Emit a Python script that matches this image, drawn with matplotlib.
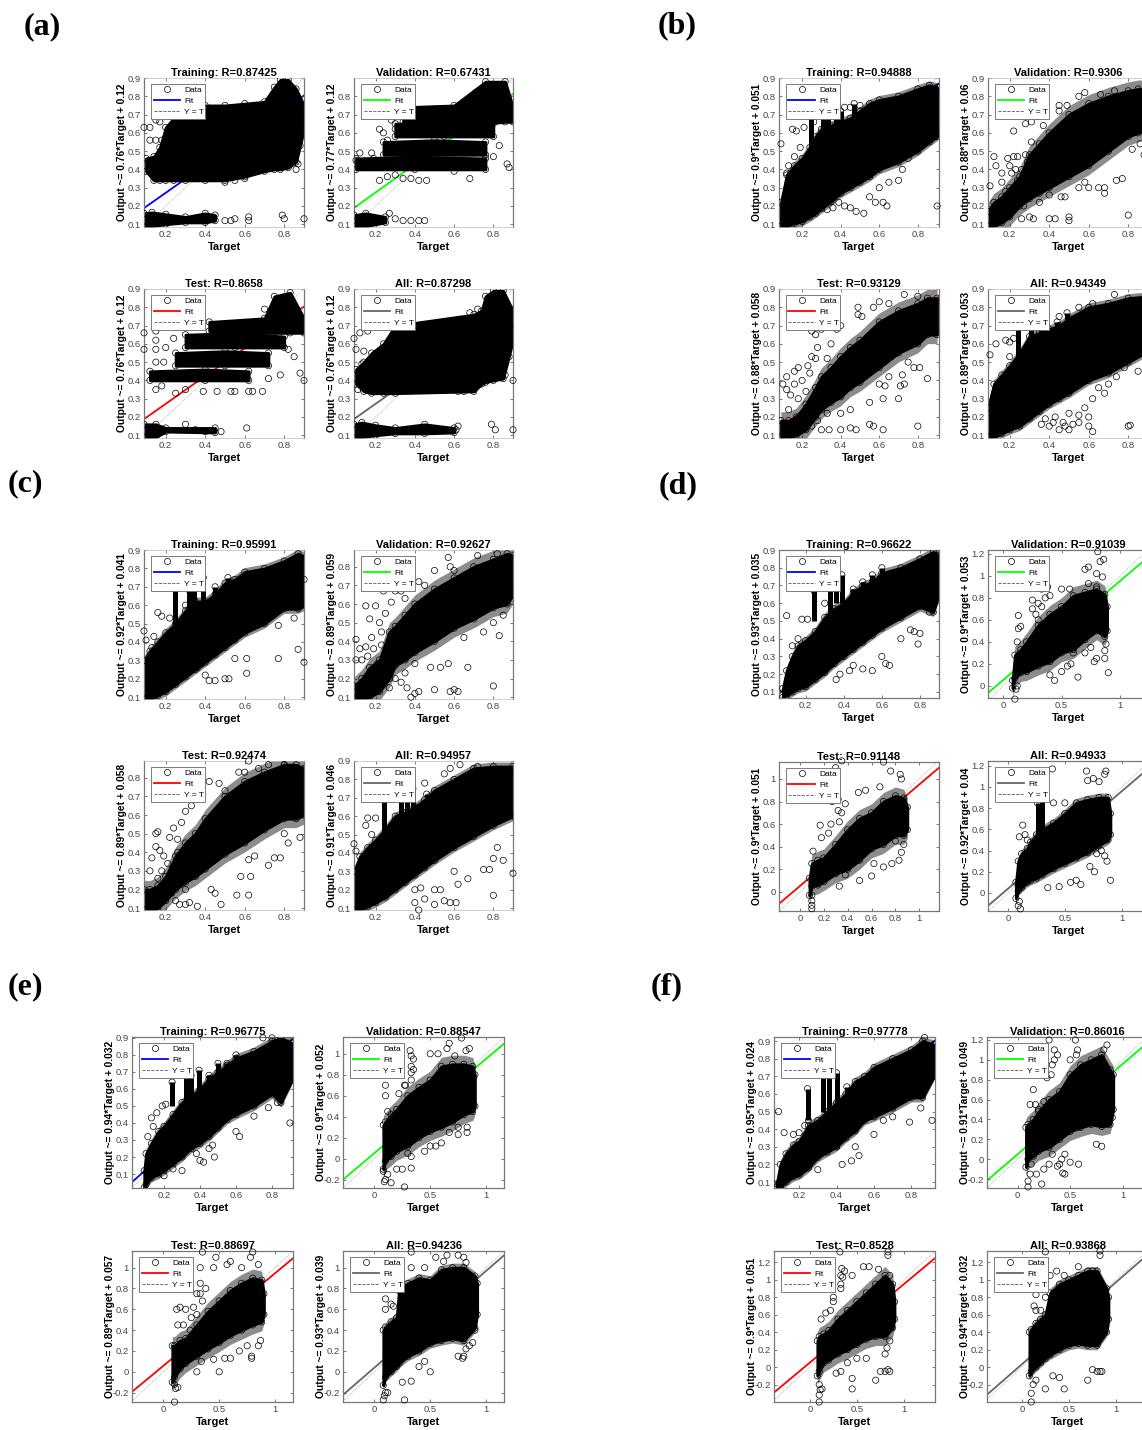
import numpy as np
import matplotlib
matplotlib.use('Agg')
import matplotlib.pyplot as plt
from matplotlib.lines import Line2D

plt.rcParams['font.family'] = ['Liberation Sans', 'DejaVu Sans']

W, H = 1142, 1430

# --- (a) the outputs sit in bands, so these panels have several clouds
a_tr_x = [.10, .14, .17, .20, .24, .30, .40, .50, .60, .70, .75, .78, .82, .86, .90, .91]
a_tr_hi = [.46, .47, .52, .63, .68, .75, .75, .75, .76, .77, .85, .89, .89, .84, .75, .70]
a_tr_lo = [.39, .34, .34, .34, .34, .34, .34, .34, .36, .39, .40, .40, .41, .44, .62, .65]
a_tr_x2 = [.09, .13, .20, .30, .40, .45]
a_tr_hi2 = [.16, .165, .155, .14, .16, .15]
a_tr_lo2 = [.085, .09, .10, .11, .11, .12]
a_tr_out = [(.09, .63), (.12, .63), (.15, .67), (.12, .56), (.50, .33), (.55, .34), (.60, .35), (.62, .14),
            (.62, .12), (.79, .15), (.80, .13), (.90, .13), (.88, .53), (.87, .43), (.86, .40), (.53, .12),
            (.50, .12), (.55, .13), (.15, .56), (.18, .56), (.17, .66)]

a_va_x = [.10, .40, .76]
a_va_hi = [.46, .47, .46]
a_va_lo = [.40, .40, .40]
a_va_x2 = [.24, .50, .76]
a_va_hi2 = [.55, .56, .55]
a_va_lo2 = [.48, .48, .48]
a_va_x3 = [.30, .55, .80]
a_va_hi3 = [.65, .66, .65]
a_va_lo3 = [.58, .58, .58]
a_va_x4 = [.34, .60, .76, .86, .90]
a_va_hi4 = [.74, .75, .88, .88, .74]
a_va_lo4 = [.66, .65, .65, .66, .66]
a_va_x5 = [.09, .15, .25]
a_va_hi5 = [.15, .16, .14]
a_va_lo5 = [.09, .09, .11]
a_va_out = [(.12, .49), (.18, .49), (.19, .46), (.10, .45), (.22, .34), (.26, .36), (.30, .37), (.34, .35),
            (.38, .35), (.42, .34), (.46, .34), (.60, .39), (.68, .35), (.74, .42), (.83, .53), (.80, .47),
            (.87, .43), (.88, .41), (.22, .62), (.24, .60), (.26, .56), (.28, .67), (.30, .62), (.27, .16),
            (.30, .13), (.34, .12), (.38, .12), (.42, .12), (.45, .12), (.71, .82), (.66, .77), (.27, .53)]

a_te_x = [.12, .40, .62]
a_te_hi = [.45, .46, .45]
a_te_lo = [.40, .40, .40]
a_te_x2 = [.25, .50, .72]
a_te_hi2 = [.55, .56, .55]
a_te_lo2 = [.48, .48, .48]
a_te_x3 = [.30, .55, .80]
a_te_hi3 = [.65, .66, .64]
a_te_lo3 = [.58, .58, .58]
a_te_x4 = [.42, .70, .75, .83, .90]
a_te_hi4 = [.72, .74, .86, .88, .74]
a_te_lo4 = [.67, .66, .66, .66, .66]
a_te_x5 = [.09, .15, .20, .45]
a_te_hi5 = [.16, .16, .14, .14]
a_te_lo5 = [.09, .09, .12, .115]
a_te_out = [(.09, .66), (.15, .67), (.15, .62), (.09, .57), (.15, .57), (.20, .58), (.15, .50), (.19, .50),
            (.15, .35), (.18, .37), (.25, .33), (.30, .35), (.39, .34), (.46, .34), (.53, .34), (.55, .34),
            (.62, .34), (.64, .34), (.69, .34), (.78, .43), (.88, .44), (.90, .40), (.85, .53), (.82, .57),
            (.70, .79), (.30, .16), (.35, .13), (.40, .12), (.48, .12), (.61, .14), (.72, .41), (.24, .63)]

a_al_x = [.10, .14, .18, .24, .30, .70, .74, .76, .80, .85, .90, .91]
a_al_hi = [.46, .50, .55, .60, .70, .76, .78, .86, .89, .89, .78, .70]
a_al_lo = [.38, .34, .33, .33, .33, .34, .38, .39, .40, .41, .62, .64]
a_al_x2 = [.09, .13, .20, .30, .45, .60]
a_al_hi2 = [.16, .17, .155, .14, .16, .14]
a_al_lo2 = [.085, .09, .10, .11, .11, .115]
a_al_out = [(.09, .63), (.12, .66), (.16, .67), (.10, .57), (.14, .56), (.62, .34), (.65, .34), (.70, .35),
            (.79, .16), (.81, .13), (.90, .13), (.62, .15), (.61, .13), (.88, .53), (.90, .40), (.86, .43),
            (.72, .79), (.68, .77), (.13, .49), (.11, .35)]

# --- (b)
b_tr_x = [.09, .12, .16, .20, .24, .27, .30, .35, .40, .45, .50, .55, .60, .70, .80, .86, .90, .91]
b_tr_hi = [.22, .37, .42, .46, .52, .58, .62, .64, .66, .68, .72, .76, .78, .80, .84, .86, .85, .80]
b_tr_lo = [.09, .09, .105, .115, .14, .16, .185, .225, .27, .30, .33, .36, .40, .44, .50, .55, .58, .60]
b_tr_tw = [(.245, .5, .69), (.31, .55, .69), (.335, .55, .69), (.375, .55, .69), (.40, .55, .72), (.47, .6, .76)]
b_tr_out = [(.09, .54), (.15, .62), (.17, .61), (.21, .63), (.16, .47), (.19, .52), (.13, .42), (.12, .38),
            (.26, .66), (.42, .74), (.45, .74), (.50, .75), (.39, .22), (.42, .20), (.45, .19), (.48, .17),
            (.52, .16), (.55, .25), (.58, .22), (.62, .22), (.64, .20), (.60, .30), (.65, .33), (.70, .34),
            (.72, .40), (.75, .46), (.68, .45), (.90, .20), (.86, .57), (.36, .19), (.33, .18)]

b_va_x = [.09, .12, .16, .20, .25, .30, .35, .40, .50, .60, .70, .80, .85, .90]
b_va_hi = [.17, .22, .25, .30, .36, .48, .54, .60, .70, .76, .80, .83, .84, .84]
b_va_lo = [.09, .09, .11, .14, .20, .24, .27, .30, .36, .42, .50, .58, .60, .62]
b_va_out = [(.12, .47), (.13, .42), (.10, .31), (.16, .38), (.19, .46), (.22, .47), (.24, .47), (.26, .40),
            (.28, .48), (.21, .38), (.25, .30), (.22, .61), (.28, .65), (.31, .66), (.34, .69), (.37, .64),
            (.31, .55), (.45, .72), (.45, .75), (.49, .75), (.55, .80), (.58, .82), (.66, .81), (.73, .83),
            (.30, .14), (.32, .13), (.26, .13), (.40, .13), (.43, .13), (.50, .12), (.50, .14), (.80, .15),
            (.65, .30), (.68, .27), (.68, .30), (.60, .30), (.55, .30), (.58, .33), (.74, .34), (.77, .35),
            (.88, .48), (.35, .22), (.40, .26), (.46, .25), (.48, .25), (.27, .20), (.16, .33), (.18, .28),
            (.23, .26), (.24, .34), (.29, .44), (.20, .42), (.23, .40), (.28, .36), (.82, .51), (.86, .54)]

b_te_x = [.09, .13, .17, .22, .27, .30, .35, .40, .45, .50, .60, .70, .80, .85, .90]
b_te_hi = [.18, .18, .20, .27, .36, .42, .47, .53, .58, .62, .72, .78, .82, .85, .85]
b_te_lo = [.09, .09, .10, .13, .20, .24, .28, .31, .36, .39, .47, .55, .60, .65, .65]
b_te_out = [(.10, .38), (.12, .42), (.16, .45), (.18, .47), (.23, .48), (.25, .53), (.27, .52), (.13, .24),
            (.27, .65), (.25, .67), (.30, .68), (.35, .60), (.38, .68), (.40, .70), (.49, .76), (.49, .80),
            (.51, .75), (.57, .80), (.60, .83), (.65, .82), (.73, .87), (.80, .86), (.85, .82), (.30, .13),
            (.34, .13), (.40, .13), (.45, .14), (.48, .13), (.55, .16), (.57, .15), (.62, .13), (.80, .15),
            (.55, .28), (.62, .30), (.70, .30), (.71, .37), (.73, .38), (.60, .38), (.63, .37), (.65, .42),
            (.75, .50), (.78, .47), (.81, .47), (.85, .41), (.72, .43), (.45, .24), (.40, .22), (.14, .32),
            (.18, .30), (.22, .34), (.20, .40), (.24, .44), (.28, .58), (.33, .52), (.12, .35), (.16, .38),
            (.25, .15), (.22, .16), (.28, .18), (.33, .22)]

b_al_x = [.09, .12, .16, .20, .25, .30, .35, .40, .45, .50, .60, .70, .80, .90]
b_al_hi = [.25, .38, .43, .48, .55, .64, .66, .68, .70, .74, .80, .82, .85, .86]
b_al_lo = [.09, .09, .11, .13, .15, .19, .23, .27, .30, .33, .40, .44, .50, .56]
b_al_tw = [(.24, .5, .70), (.31, .55, .70), (.36, .55, .76), (.44, .6, .72), (.49, .6, .77)]
b_al_out = [(.10, .54), (.13, .60), (.20, .61), (.18, .62), (.22, .63), (.20, .53), (.45, .75), (.55, .80),
            (.62, .82), (.73, .87), (.62, .12), (.60, .20), (.55, .17), (.52, .16), (.47, .17), (.42, .17),
            (.40, .15), (.45, .13), (.50, .13), (.80, .15), (.81, .155), (.36, .16), (.58, .25), (.62, .30),
            (.68, .33), (.70, .38), (.78, .47), (.85, .45), (.90, .41), (.50, .22), (.55, .21), (.43, .20),
            (.38, .19), (.48, .15), (.60, .15), (.65, .36), (.74, .42), (.82, .52)]

# --- (c)
c_tr_x = [.09, .12, .16, .20, .25, .30, .35, .40, .45, .50, .55, .60, .70, .80, .87, .91]
c_tr_hi = [.30, .35, .40, .45, .50, .57, .62, .62, .66, .72, .74, .78, .80, .84, .88, .86]
c_tr_lo = [.09, .09, .11, .13, .17, .21, .25, .29, .33, .37, .41, .45, .50, .58, .58, .60]
c_tr_tw = [(.245, .5, .69), (.32, .55, .68), (.345, .55, .69), (.39, .6, .75), (.45, .6, .70), (.515, .6, .75)]
c_tr_out = [(.09, .46), (.10, .41), (.16, .56), (.18, .54), (.14, .43), (.13, .37), (.22, .53), (.30, .60),
            (.36, .26), (.38, .28), (.40, .22), (.42, .19), (.45, .19), (.50, .20), (.52, .20), (.55, .31),
            (.61, .31), (.61, .23), (.77, .31), (.87, .36), (.90, .29), (.77, .49), (.85, .53), (.90, .74)]

c_va_x = [.09, .13, .17, .22, .27, .30, .35, .40, .50, .60, .70, .80, .87, .90]
c_va_hi = [.16, .20, .26, .30, .45, .48, .54, .60, .68, .74, .80, .84, .87, .86]
c_va_lo = [.09, .09, .10, .13, .20, .27, .30, .34, .40, .47, .52, .58, .60, .65]
c_va_out = [(.10, .41), (.12, .36), (.15, .37), (.15, .59), (.20, .59), (.17, .52), (.22, .50), (.23, .45),
            (.18, .42), (.13, .30), (.10, .30), (.24, .67), (.25, .55), (.28, .61), (.30, .67), (.33, .67),
            (.35, .63), (.42, .72), (.45, .70), (.50, .78), (.57, .85), (.58, .80), (.60, .78), (.72, .86),
            (.82, .87), (.30, .20), (.33, .18), (.36, .15), (.40, .12), (.42, .13), (.38, .10), (.50, .14),
            (.58, .13), (.60, .14), (.62, .13), (.67, .26), (.80, .16), (.83, .43), (.57, .28), (.53, .26),
            (.48, .26), (.65, .42), (.75, .45), (.80, .50), (.85, .54), (.16, .32), (.19, .36), (.21, .28),
            (.25, .22), (.27, .15), (.23, .38), (.26, .33), (.35, .23), (.40, .28)]

c_te_x = [.09, .12, .16, .20, .25, .30, .35, .40, .50, .60, .70, .80, .86, .90]
c_te_hi = [.20, .20, .22, .27, .38, .45, .50, .58, .70, .78, .83, .87, .87, .85]
c_te_lo = [.09, .09, .10, .14, .20, .24, .27, .31, .39, .45, .52, .58, .58, .60]
c_te_out = [(.15, .50), (.16, .51), (.15, .43), (.17, .41), (.13, .37), (.12, .30), (.22, .48), (.24, .53),
            (.26, .47), (.28, .56), (.30, .62), (.33, .65), (.33, .72), (.37, .70), (.42, .78), (.47, .77),
            (.50, .73), (.57, .83), (.60, .83), (.62, .89), (.67, .85), (.72, .87), (.80, .87), (.25, .14),
            (.27, .12), (.30, .12), (.32, .13), (.36, .11), (.48, .12), (.56, .17), (.62, .17), (.45, .18),
            (.43, .20), (.58, .27), (.63, .27), (.65, .38), (.62, .36), (.72, .33), (.75, .37), (.78, .37),
            (.82, .45), (.88, .48), (.80, .50), (.18, .30), (.21, .34), (.16, .26), (.23, .18), (.30, .20),
            (.26, .40), (.19, .38)]

c_al_x = [.09, .12, .16, .20, .25, .30, .35, .40, .45, .50, .60, .70, .80, .90, .91]
c_al_hi = [.30, .38, .43, .47, .53, .60, .62, .65, .69, .74, .80, .86, .87, .87, .84]
c_al_lo = [.09, .09, .11, .13, .16, .20, .24, .28, .32, .36, .43, .49, .55, .60, .60]
c_al_tw = [(.245, .5, .69), (.33, .6, .69), (.36, .6, .70), (.39, .6, .75), (.46, .6, .72)]
c_al_out = [(.09, .45), (.10, .41), (.16, .59), (.20, .59), (.15, .55), (.18, .50), (.45, .78), (.55, .83),
            (.58, .86), (.63, .88), (.72, .87), (.40, .20), (.43, .21), (.40, .13), (.45, .15), (.50, .12),
            (.55, .14), (.58, .13), (.61, .13), (.42, .09), (.62, .23), (.67, .26), (.60, .30), (.75, .31),
            (.80, .17), (.82, .43), (.80, .37), (.85, .36), (.90, .29), (.78, .31), (.50, .20), (.53, .20)]

# --- (d)
d_tr_x = [.08, .10, .13, .16, .20, .25, .30, .35, .40, .45, .50, .55, .60, .70, .80, .87, .90]
d_tr_hi = [.12, .22, .30, .36, .39, .44, .52, .57, .60, .66, .70, .72, .77, .80, .85, .89, .87]
d_tr_lo = [.07, .08, .10, .12, .13, .17, .21, .26, .30, .34, .38, .42, .46, .52, .58, .55, .65]
d_tr_tw = [(.245, .5, .67), (.33, .55, .68), (.36, .6, .68), (.39, .6, .76), (.45, .6, .68), (.50, .6, .72),
           (.55, .65, .76), (.60, .7, .80)]
d_tr_out = [(.10, .53), (.18, .51), (.21, .51), (.13, .36), (.16, .40), (.30, .60), (.36, .17), (.38, .20),
            (.43, .22), (.45, .25), (.50, .23), (.55, .22), (.62, .26), (.64, .25), (.60, .30), (.70, .40),
            (.77, .44), (.79, .37), (.80, .43), (.75, .45), (.85, .55)]

d_va_x = [.08, .10, .15, .20, .30, .40, .50, .60, .70, .80, .87, .89]
d_va_hi = [.05, .28, .33, .40, .55, .65, .72, .82, .85, .88, .83, .72]
d_va_lo = [-.02, .07, .12, .13, .18, .22, .30, .33, .42, .50, .45, .50]
d_va_out = [(.10, -.12), (.11, -.03), (.12, .0), (.13, .64), (.13, .52), (.15, .54), (.12, .40), (.25, .78),
            (.25, .70), (.30, .60), (.33, .88), (.38, .90), (.40, .82), (.50, .88), (.57, .88), (.70, 1.06),
            (.73, 1.08), (.80, 1.02), (.85, .99), (.86, 1.15), (.83, 1.13), (.80, .90), (.73, .93), (.40, .10),
            (.44, .05), (.50, .13), (.55, .18), (.58, .20), (.64, .08), (.90, .12), (.87, .25), (.87, .32),
            (.88, .38), (.80, .25), (.78, .22), (.60, .30), (.70, .30), (.75, .35), (.81, 1.22), (.30, .75),
            (.36, .80), (.33, .72), (.28, .65)]

d_te_x = [.08, .10, .15, .20, .30, .40, .50, .60, .70, .80, .87, .90]
d_te_hi = [.12, .25, .28, .30, .42, .55, .65, .70, .80, .85, .83, .75]
d_te_lo = [-.03, .05, .06, .09, .16, .20, .28, .38, .42, .50, .50, .55]
d_te_out = [(.10, -.12), (.10, -.08), (.10, -.03), (.10, -.15), (.11, .36), (.17, .59), (.18, .48), (.24, .52),
            (.26, .60), (.30, 1.10), (.32, .72), (.35, 1.16), (.38, .78), (.32, .82), (.27, .80), (.35, .70),
            (.33, .62), (.49, .88), (.55, .90), (.67, .93), (.70, 1.15), (.76, 1.07), (.84, 1.04), (.85, 1.00),
            (.33, .05), (.38, .15), (.50, .10), (.60, .14), (.62, .25), (.70, .22), (.77, .25), (.83, .28),
            (.85, .35), (.87, .42), (.80, .45), (.30, .90), (.30, .95), (.30, 1.0)]

d_al_x = [.07, .09, .12, .17, .20, .25, .30, .40, .50, .60, .70, .80, .88, .90]
d_al_hi = [.10, .30, .37, .42, .48, .55, .60, .66, .75, .85, .88, .90, .90, .75]
d_al_lo = [-.05, .02, .05, .10, .12, .14, .17, .23, .28, .33, .38, .45, .50, .55]
d_al_tw = [(.26, .5, .85), (.30, .5, 1.0)]
d_al_out = [(.09, -.12), (.10, -.08), (.11, -.15), (.13, .64), (.10, .53), (.15, .55), (.17, .50), (.39, 1.17),
            (.40, .85), (.50, .85), (.70, 1.06), (.75, 1.08), (.80, 1.05), (.85, 1.12), (.86, 1.15), (.69, 1.15),
            (.35, .05), (.45, .06), (.55, .10), (.60, .12), (.64, .08), (.72, .25), (.76, .20), (.90, .12),
            (.85, .35), (.87, .30), (.78, .37), (.82, .40)]

# --- (e)
e_tr_x = [.09, .10, .13, .17, .20, .25, .30, .35, .40, .45, .50, .55, .60, .70, .80, .85, .91]
e_tr_hi = [.12, .22, .28, .35, .38, .45, .52, .56, .60, .66, .70, .74, .78, .82, .88, .90, .87]
e_tr_lo = [.02, .04, .08, .10, .12, .16, .20, .25, .28, .32, .37, .42, .45, .50, .57, .52, .65]
e_tr_tw = [(.245, .5, .64), (.32, .5, .68), (.35, .55, .68), (.395, .55, .71), (.45, .6, .68), (.50, .6, .75),
           (.55, .6, .75), (.60, .7, .80)]
e_tr_out = [(.13, .43), (.11, .32), (.16, .46), (.19, .50), (.21, .51), (.14, .38), (.25, .13), (.30, .12),
            (.20, .09), (.38, .22), (.40, .18), (.45, .25), (.47, .27), (.48, .20), (.42, .17), (.60, .35),
            (.62, .32), (.70, .44), (.78, .49), (.90, .40), (.83, .52), (.80, .90), (.75, .90)]

e_va_x = [.08, .10, .15, .20, .30, .40, .50, .60, .70, .80, .88, .90]
e_va_hi = [.32, .35, .42, .47, .60, .68, .75, .88, .90, .90, .88, .80]
e_va_lo = [-.10, -.02, .02, .07, .12, .20, .26, .30, .35, .42, .45, .50]
e_va_out = [(.10, .60), (.10, .70), (.12, .45), (.09, -.22), (.10, -.20), (.15, -.23), (.08, -.12), (.27, -.27),
            (.12, -.15), (.20, -.10), (.25, -.10), (.33, -.09), (.22, .62), (.27, .70), (.33, .75), (.33, .82),
            (.35, .85), (.33, .88), (.35, .95), (.33, .98), (.32, 1.03), (.28, .70), (.50, 1.00), (.57, 1.00),
            (.65, 1.05), (.67, 1.10), (.72, .98), (.78, 1.15), (.82, 1.03), (.85, 1.05), (.30, .05), (.33, .02),
            (.45, .07), (.50, .12), (.55, .12), (.60, .15), (.67, .25), (.75, .23), (.83, .25), (.83, .30),
            (.75, .30)]

e_te_x = [.08, .10, .15, .20, .30, .40, .50, .60, .70, .80, .88, .90]
e_te_hi = [.25, .25, .30, .32, .45, .58, .68, .78, .85, .90, .88, .75]
e_te_lo = [-.10, -.05, .03, .08, .15, .22, .28, .35, .40, .45, .48, .55]
e_te_out = [(.10, -.12), (.11, -.16), (.10, -.29), (.13, -.15), (.12, .60), (.15, .62), (.20, .60), (.13, .45),
            (.25, .52), (.30, .55), (.33, .75), (.33, .85), (.38, .80), (.35, .68), (.35, 1.15), (.33, 1.00),
            (.45, 1.00), (.47, 1.10), (.57, 1.03), (.60, 1.06), (.70, 1.00), (.78, 1.10), (.80, 1.15), (.85, 1.03),
            (.30, .00), (.34, .10), (.45, .12), (.50, .00), (.55, .13), (.60, .13), (.68, .20), (.75, .25),
            (.79, .13), (.79, .15), (.85, .25), (.87, .30), (.18, .45), (.24, .40), (.27, .62), (.30, .75)]

e_al_x = [.08, .10, .15, .20, .22, .30, .40, .50, .60, .70, .80, .90, .92]
e_al_hi = [.40, .43, .48, .52, .78, .85, .90, .88, .98, 1.00, 1.00, .92, .85]
e_al_lo = [-.13, -.05, .00, .05, .08, .15, .20, .27, .30, .32, .30, .42, .55]
e_al_out = [(.10, .70), (.10, .60), (.15, .65), (.17, .63), (.10, -.20), (.09, -.23), (.08, -.27), (.12, -.20),
            (.27, -.27), (.33, -.09), (.25, -.10), (.33, 1.15), (.33, 1.00), (.45, 1.00), (.55, 1.10), (.65, 1.12),
            (.62, 1.06), (.75, 1.12), (.82, 1.05), (.80, 1.10), (.50, .00), (.40, .05), (.45, .10), (.75, .15),
            (.79, .13), (.80, .15), (.82, .22), (.85, .25), (.88, .28), (.90, .40)]

# --- (f)
f_tr_x = [.08, .10, .13, .17, .20, .25, .30, .35, .40, .45, .50, .55, .60, .70, .80, .86, .92]
f_tr_hi = [.09, .20, .26, .31, .33, .42, .45, .50, .55, .60, .67, .70, .75, .80, .85, .90, .88]
f_tr_lo = [.07, .07, .10, .13, .14, .18, .24, .27, .30, .35, .39, .45, .47, .52, .58, .58, .70]
f_tr_tw = [(.245, .45, .63), (.33, .5, .70), (.36, .5, .70), (.40, .55, .72), (.455, .55, .64)]
f_tr_out = [(.09, .50), (.12, .38), (.17, .37), (.20, .38), (.23, .42), (.25, .45), (.22, .19), (.30, .17),
            (.40, .30), (.43, .20), (.48, .22), (.52, .25), (.50, .30), (.60, .37), (.65, .45), (.70, .47),
            (.79, .44), (.91, .45), (.85, .52), (.87, .92)]

f_va_x = [.08, .10, .15, .20, .30, .40, .50, .60, .70, .80, .88, .91]
f_va_hi = [.32, .35, .40, .48, .60, .68, .85, .95, 1.00, 1.05, .90, .85]
f_va_lo = [-.08, .00, .03, .08, .12, .20, .28, .32, .35, .33, .35, .50]
f_va_out = [(.10, -.28), (.10, -.22), (.12, -.15), (.13, -.05), (.15, .70), (.12, .55), (.17, .55), (.20, .50),
            (.25, .58), (.18, -.15), (.25, -.10), (.23, -.25), (.30, -.05), (.33, .05), (.38, -.07), (.40, -.05),
            (.43, -.14), (.45, -.15), (.42, .00), (.50, -.03), (.45, .05), (.58, -.05), (.32, .85), (.33, .95),
            (.35, 1.00), (.35, 1.10), (.38, 1.05), (.30, 1.20), (.28, .82), (.56, 1.05), (.57, 1.10), (.50, 1.00),
            (.55, 1.20), (.82, 1.10), (.85, 1.15), (.90, .42), (.85, .35), (.80, .13), (.75, .15)]

f_te_x = [.08, .10, .15, .20, .30, .40, .50, .60, .70, .80, .88, .90]
f_te_hi = [.30, .35, .38, .42, .55, .65, .75, .85, .95, 1.05, .95, .75]
f_te_lo = [-.10, -.05, .05, .08, .15, .20, .26, .32, .35, .35, .45, .55]
f_te_out = [(.10, -.20), (.11, -.26), (.10, -.32), (.10, -.40), (.13, -.25), (.12, .55), (.17, .62), (.22, .65),
            (.25, .75), (.25, .80), (.33, .90), (.33, .95), (.34, 1.13), (.37, 1.10), (.33, 1.05), (.35, 1.03),
            (.32, 1.32), (.45, 1.05), (.57, 1.15), (.63, 1.15), (.73, 1.12), (.83, 1.28), (.83, 1.32), (.85, 1.05),
            (.28, -.07), (.33, -.05), (.45, -.13), (.45, -.25), (.40, .05), (.50, .10), (.60, .10), (.70, -.15),
            (.75, -.05), (.80, -.05), (.83, -.03), (.85, -.05), (.80, .15), (.82, .22), (.85, .30)]

f_al_x = [.08, .10, .15, .20, .25, .30, .40, .50, .60, .70, .80, .90, .92]
f_al_hi = [.40, .43, .50, .55, .60, .85, .95, 1.00, 1.05, 1.10, 1.10, .90, .80]
f_al_lo = [-.10, -.05, .00, .05, .10, .14, .20, .25, .27, .25, .25, .40, .55]
f_al_out = [(.10, -.40), (.10, -.30), (.12, -.20), (.15, -.15), (.25, -.25), (.13, .70), (.15, .65), (.20, .65),
            (.15, .83), (.25, .80), (.22, 1.00), (.25, 1.05), (.30, 1.05), (.37, 1.10), (.25, 1.32), (.25, 1.20),
            (.45, 1.05), (.60, 1.15), (.65, 1.05), (.75, 1.10), (.83, 1.28), (.83, 1.33), (.45, -.25), (.70, -.15),
            (.75, -.03), (.80, -.05), (.83, -.05), (.85, -.05), (.40, -.12), (.33, -.10)]

# R values, fit slope and intercept, in panel order Training, Validation, Test, All
names = ['Training', 'Validation', 'Test', 'All']
r_values = ['0.87425', '0.67431', '0.8658', '0.87298', '0.94888', '0.9306', '0.93129', '0.94349',
            '0.95991', '0.92627', '0.92474', '0.94957', '0.96622', '0.91039', '0.91148', '0.94933',
            '0.96775', '0.88547', '0.88697', '0.94236', '0.97778', '0.86016', '0.8528', '0.93868']
slopes = [.76, .77, .76, .76, .9, .88, .88, .89, .92, .89, .89, .91,
          .93, .9, .9, .92, .94, .9, .89, .93, .95, .91, .9, .94]
intercepts = [.12, .12, .12, .12, .051, .06, .058, .053, .041, .059, .058, .046,
              .035, .053, .051, .04, .032, .052, .057, .039, .024, .049, .051, .032]

t028 = [.2, .4, .6, .8]
t05 = [0, .5, 1]
y19 = [.1, .2, .3, .4, .5, .6, .7, .8, .9]
y18 = [.1, .2, .3, .4, .5, .6, .7, .8]
y012 = [0, .2, .4, .6, .8, 1, 1.2]
ym1 = [-.2, 0, .2, .4, .6, .8, 1]
ym12 = [-.2, 0, .2, .4, .6, .8, 1, 1.2]

# left, right, top, bottom in pixels
boxes = [(144, 304, 78, 227), (354, 513, 78, 227), (144, 304, 289, 438), (354, 513, 289, 438),
         (779, 939, 78, 227), (988, 1148, 78, 227), (779, 939, 289, 438), (988, 1148, 289, 438),
         (144, 304, 550, 699), (354, 513, 550, 699), (144, 304, 761, 910), (354, 513, 761, 910),
         (779, 939, 550, 698), (988, 1148, 550, 698), (779, 939, 762, 911), (988, 1148, 761, 911),
         (132, 293, 1037, 1188), (343, 504, 1037, 1188), (132, 293, 1251, 1402), (343, 504, 1251, 1402),
         (774, 935, 1037, 1188), (987, 1148, 1037, 1188), (774, 935, 1251, 1402), (987, 1148, 1251, 1402)]
xlims = [(.09, .9)] * 4 + [(.08, .91), (.09, .9), (.08, .91), (.09, .9)] + [(.09, .9)] * 4 + \
        [(.06, .9), (-.13, 1.24), (-.175, 1.165), (-.175, 1.23)] + \
        [(.022, .917), (-.28, 1.16), (-.28, 1.16), (-.28, 1.16)] + \
        [(.066, .926), (-.29, 1.24), (-.38, 1.33), (-.37, 1.34)]
ylims = [(.085, .9)] * 4 + [(.085, .9)] * 4 + \
        [(.09, .9), (.09, .89), (.09, .89), (.09, .9)] + \
        [(.066, .9), (-.11, 1.235), (-.17, 1.15), (-.17, 1.245)] + \
        [(.018, .905), (-.28, 1.16), (-.29, 1.16), (-.29, 1.16)] + \
        [(.066, .923), (-.29, 1.23), (-.4, 1.33), (-.4, 1.33)]
xticks = [t028] * 12 + [t028, t05, [0, .2, .4, .6, .8, 1], t05] + [t028, t05, t05, t05] + [t028, t05, t05, t05]
yticks = [y19, y18, y19, y19] + [y19] * 4 + [y19, y18, y18, y19] + \
         [y19, y012, [0, .2, .4, .6, .8, 1], y012] + [y19, ym1, ym1, ym1] + [y19, ym12, ym12, ym12]

clouds = [
    [(a_tr_x, a_tr_lo, a_tr_hi), (a_tr_x2, a_tr_lo2, a_tr_hi2)],
    [(a_va_x, a_va_lo, a_va_hi), (a_va_x2, a_va_lo2, a_va_hi2), (a_va_x3, a_va_lo3, a_va_hi3),
     (a_va_x4, a_va_lo4, a_va_hi4), (a_va_x5, a_va_lo5, a_va_hi5)],
    [(a_te_x, a_te_lo, a_te_hi), (a_te_x2, a_te_lo2, a_te_hi2), (a_te_x3, a_te_lo3, a_te_hi3),
     (a_te_x4, a_te_lo4, a_te_hi4), (a_te_x5, a_te_lo5, a_te_hi5)],
    [(a_al_x, a_al_lo, a_al_hi), (a_al_x2, a_al_lo2, a_al_hi2)],
    [(b_tr_x, b_tr_lo, b_tr_hi)], [(b_va_x, b_va_lo, b_va_hi)], [(b_te_x, b_te_lo, b_te_hi)], [(b_al_x, b_al_lo, b_al_hi)],
    [(c_tr_x, c_tr_lo, c_tr_hi)], [(c_va_x, c_va_lo, c_va_hi)], [(c_te_x, c_te_lo, c_te_hi)], [(c_al_x, c_al_lo, c_al_hi)],
    [(d_tr_x, d_tr_lo, d_tr_hi)], [(d_va_x, d_va_lo, d_va_hi)], [(d_te_x, d_te_lo, d_te_hi)], [(d_al_x, d_al_lo, d_al_hi)],
    [(e_tr_x, e_tr_lo, e_tr_hi)], [(e_va_x, e_va_lo, e_va_hi)], [(e_te_x, e_te_lo, e_te_hi)], [(e_al_x, e_al_lo, e_al_hi)],
    [(f_tr_x, f_tr_lo, f_tr_hi)], [(f_va_x, f_va_lo, f_va_hi)], [(f_te_x, f_te_lo, f_te_hi)], [(f_al_x, f_al_lo, f_al_hi)],
]
outliers = [a_tr_out, a_va_out, a_te_out, a_al_out, b_tr_out, b_va_out, b_te_out, b_al_out,
            c_tr_out, c_va_out, c_te_out, c_al_out, d_tr_out, d_va_out, d_te_out, d_al_out,
            e_tr_out, e_va_out, e_te_out, e_al_out, f_tr_out, f_va_out, f_te_out, f_al_out]
towers = [[], [], [], [], b_tr_tw, [], [], b_al_tw, c_tr_tw, [], [], c_al_tw,
          d_tr_tw, [], [], d_al_tw, e_tr_tw, [], [], [], f_tr_tw, [], [], []]

fit_colors = ['#0000ff', '#00ff00', '#ff0000', '#666666']
letters = [('(a)', 24, 27), ('(b)', 658, 26), ('(c)', 8, 484), ('(d)', 659, 486), ('(e)', 8, 987), ('(f)', 651, 987)]


def draw_panel(i):
    l, r, t, b = boxes[i]
    ax = fig.add_axes([l / W, 1 - b / H, (r - l) / W, (b - t) / H])
    kind = i % 4
    group = i // 4
    ax.set_xlim(xlims[i])
    ax.set_ylim(ylims[i])

    # fit and Y = T lie under the data
    xs = np.array(xlims[i])
    ax.plot(xs, slopes[i] * xs + intercepts[i], color=fit_colors[kind], lw=1.3, zorder=1)
    ax.plot(xs, xs, color='#888888', lw=0.5, ls=':', zorder=1)

    # the loose rim of the cloud reads as a dark grey speckle at this size
    # panel (a) has white gaps between its bands, so no rim there
    rim = (0.06 if kind in (1, 2) else 0.03) * (ylims[i][1] - ylims[i][0])
    for cx, lo, hi in clouds[i]:
        if group > 0:
            ax.fill_between(cx, np.array(lo) - rim, np.array(hi) + rim, color='black', alpha=0.45, lw=0, zorder=2)
        ax.fill_between(cx, lo, hi, color='black', lw=2, zorder=2)
        ax.scatter(list(cx) + list(cx), list(lo) + list(hi), s=20, facecolors='none',
                   edgecolors='black', linewidths=0.5, zorder=3)
    for tx, tlo, thi in towers[i]:
        ax.vlines(tx, tlo, thi, color='black', lw=3.6, zorder=2)
        ax.scatter([tx], [thi], s=20, facecolors='none', edgecolors='black', linewidths=0.5, zorder=3)
    ox = [p[0] for p in outliers[i]]
    oy = [p[1] for p in outliers[i]]
    ax.scatter(ox, oy, s=20, facecolors='none', edgecolors='black', linewidths=0.5, zorder=3, clip_on=False)

    ax.set_xticks(xticks[i], labels=[f'{v:g}' for v in xticks[i]])
    ax.set_yticks(yticks[i], labels=[f'{v:g}' for v in yticks[i]])
    ax.tick_params(direction='in', length=2, width=0.5, top=True, right=True, pad=2.5,
                   labelsize=6.8, labelcolor='#444444', color='#444444')
    for side in ['left', 'right']:
        ax.spines[side].set_color('#777777')
        ax.spines[side].set_linewidth(0.9)
    for side in ['top', 'bottom']:
        ax.spines[side].set_color('#777777' if group >= 3 else '#bbbbbb')
        ax.spines[side].set_linewidth(0.9 if group >= 3 else 0.5)

    ax.set_title(f'{names[kind]}: R={r_values[i]}', fontsize=8, fontweight='bold', pad=1.5)
    ax.set_xlabel('Target', fontsize=7.9, fontweight='bold')
    ax.set_ylabel(f'Output ~= {slopes[i]:g}*Target + {intercepts[i]:g}', fontsize=7.4, fontweight='bold')
    ax.xaxis.set_label_coords(0.5, -15 / (b - t), transform=ax.transAxes)
    ax.yaxis.set_label_coords(-17 / (r - l), 0.5, transform=ax.transAxes)

    handles = [Line2D([], [], marker='o', mfc='none', mec='black', mew=0.5, ms=4.4, ls='none'),
               Line2D([], [], color=fit_colors[kind], lw=1.3),
               Line2D([], [], color='#555555', lw=0.6, ls='--')]
    leg = ax.legend(handles, ['Data', 'Fit', 'Y = T'], loc='upper left',
                    bbox_to_anchor=(7 / (r - l), 1 - 6 / (b - t), 54 / (r - l), 0), mode='expand',
                    borderaxespad=0, fontsize=6, fancybox=False, framealpha=1, handlelength=3.2,
                    labelspacing=0.36, borderpad=0.3, handletextpad=0.5, edgecolor='#666666')
    leg.get_frame().set_linewidth(0.6)
    leg.set_zorder(6)


fig = plt.figure(figsize=(W / 100, H / 100), dpi=100)
for i in range(24):
    draw_panel(i)
for text, x, y in letters:
    fig.text(x / W, 1 - y / H, text, family='Liberation Serif', fontweight='bold', fontsize=23,
             ha='left', va='center')

fig.savefig('out.png', dpi=100)
